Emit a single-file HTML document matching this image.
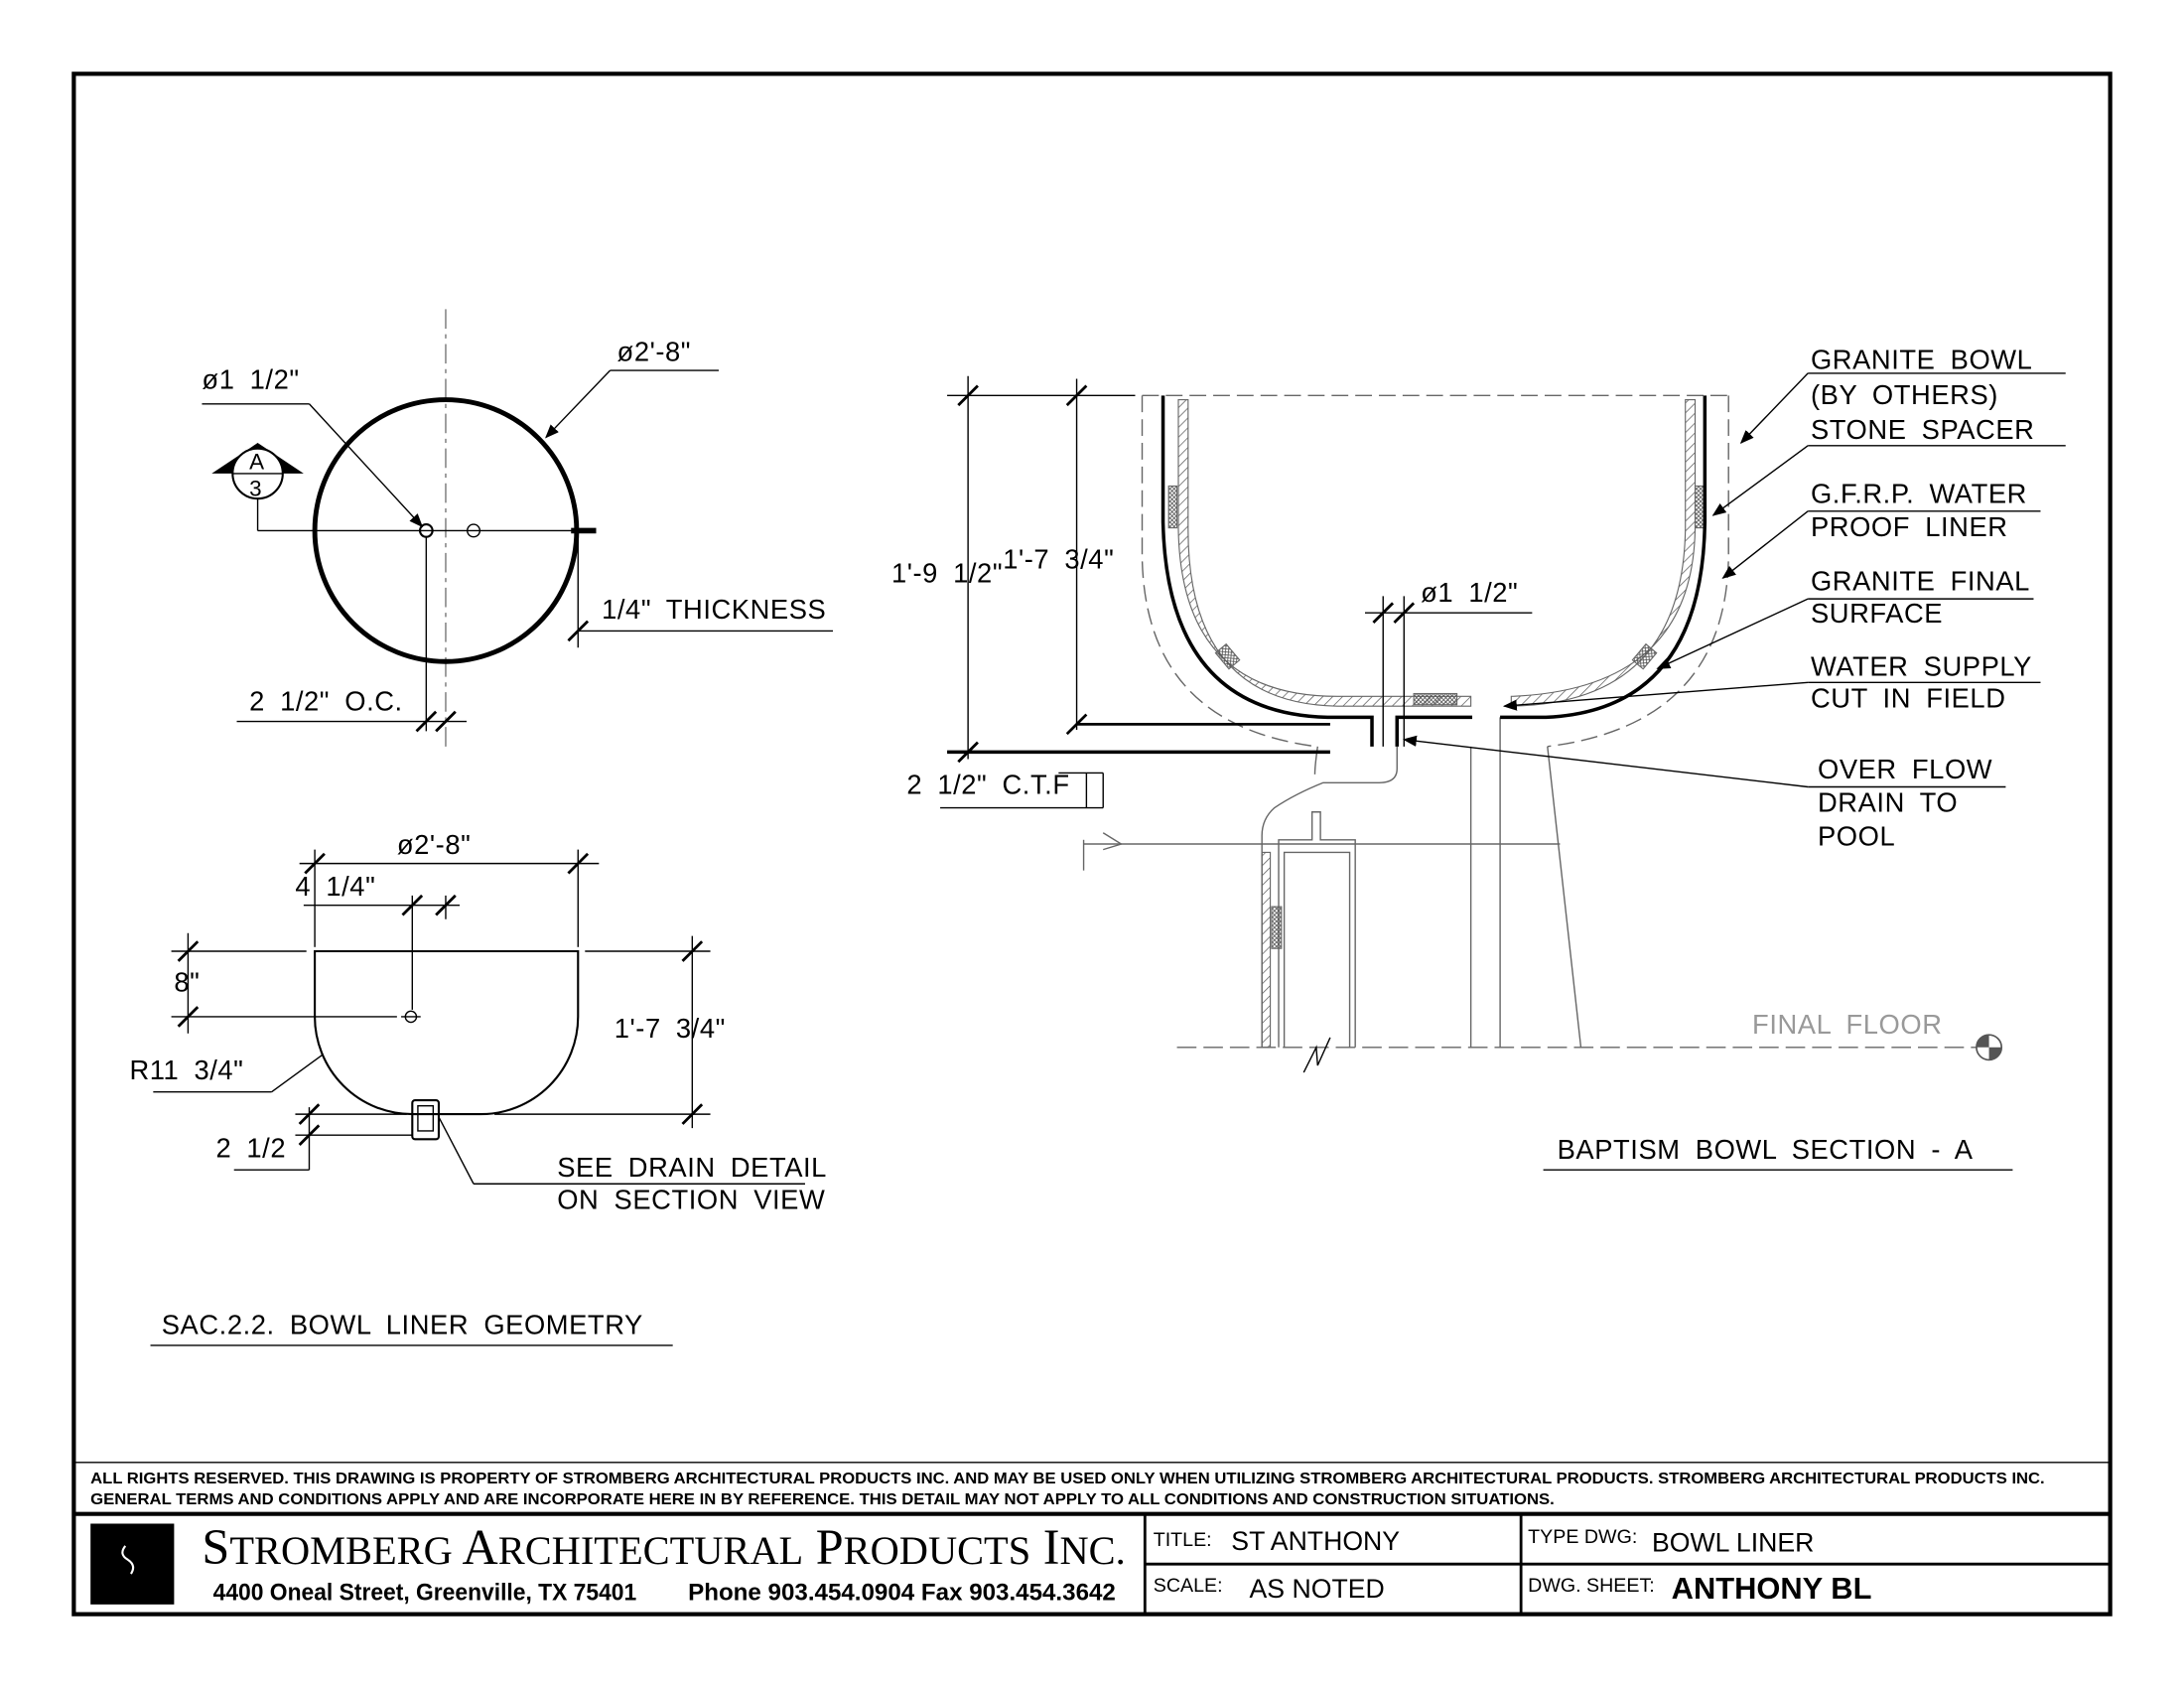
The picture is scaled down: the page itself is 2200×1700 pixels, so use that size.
<!DOCTYPE html>
<html><head><meta charset="utf-8"><style>
html,body{margin:0;padding:0;background:#fff}
svg{display:block}
text{font-family:"Liberation Sans",sans-serif;fill:#000}
.t{font-size:19.5px;word-spacing:5px;letter-spacing:0.4px}
</style></head><body>
<svg width="2200" height="1700" viewBox="0 0 1568 1212" preserveAspectRatio="none" xmlns="http://www.w3.org/2000/svg">
<defs>
<pattern id="h" width="5" height="5" patternUnits="userSpaceOnUse" patternTransform="rotate(45)"><line x1="0" y1="0" x2="0" y2="5" stroke="#555" stroke-width="1"/></pattern>
<pattern id="x" width="3" height="3" patternUnits="userSpaceOnUse"><path d="M0,0L3,3M3,0L0,3" stroke="#555" stroke-width="0.6"/></pattern>
<marker id="a" markerWidth="10" markerHeight="8" refX="9" refY="4" orient="auto" markerUnits="userSpaceOnUse"><path d="M0,0L10,4L0,8z" fill="#000"/></marker>
</defs>
<rect x="53" y="53" width="1462" height="1106" fill="none" stroke="#000" stroke-width="3"/>

<g stroke="#000" fill="none" stroke-width="1">
<line x1="320" y1="222" x2="320" y2="540" stroke-dasharray="14,4,3,4" stroke="#777"/>
<circle cx="320" cy="381" r="94" stroke-width="3.5"/>
<line x1="185" y1="381" x2="412" y2="381"/>
<line x1="410" y1="381" x2="428" y2="381" stroke-width="4"/>
<circle cx="306" cy="381" r="4.5" stroke-width="1.5"/>
<circle cx="340" cy="381" r="4.5"/>
<line x1="185" y1="358" x2="185" y2="381"/>
<line x1="145" y1="290" x2="222" y2="290"/>
<line x1="222" y1="290" x2="303" y2="378" marker-end="url(#a)"/>
<line x1="438" y1="266" x2="516" y2="266"/>
<line x1="438" y1="266" x2="392" y2="314" marker-end="url(#a)"/>
<line x1="415" y1="385" x2="415" y2="465"/>
<line x1="415" y1="453" x2="598" y2="453"/>
<line x1="408" y1="460" x2="422" y2="446" stroke-width="2"/>
<line x1="306" y1="386" x2="306" y2="525"/>
<line x1="170" y1="518" x2="335" y2="518"/>
<line x1="299" y1="525" x2="313" y2="511" stroke-width="2"/>
<line x1="313" y1="525" x2="327" y2="511" stroke-width="2"/>
</g>
<path d="M152,340 L218,340 L185,318 Z" fill="#000"/>
<circle cx="185" cy="340" r="18" fill="#fff" stroke="#000" stroke-width="1.5"/>
<line x1="167" y1="340" x2="203" y2="340" stroke="#000"/>
<text x="179" y="337" style="font-size:16px">A</text>
<text x="179" y="356" style="font-size:16px">3</text>
<text class="t" x="145" y="279">ø1 1/2"</text>
<text class="t" x="443" y="259">ø2'-8"</text>
<text class="t" x="432" y="444">1/4" THICKNESS</text>
<text class="t" x="179" y="510">2 1/2" O.C.</text>

<g stroke="#000" fill="none" stroke-width="1">
<path d="M226,683 L415,683 L415,730 A70,70 0 0 1 345,800 L296,800 A70,70 0 0 1 226,730 Z" stroke-width="1.5"/>
<rect x="296" y="790" width="19" height="28" rx="2" stroke-width="1.5"/>
<rect x="300" y="794" width="11" height="18"/>
<circle cx="295" cy="730" r="4"/>
<line x1="288" y1="730" x2="302" y2="730"/>
<line x1="215" y1="620" x2="430" y2="620"/>
<line x1="226" y1="610" x2="226" y2="680"/>
<line x1="415" y1="610" x2="415" y2="680"/>
<line x1="219" y1="627" x2="233" y2="613" stroke-width="2"/>
<line x1="408" y1="627" x2="422" y2="613" stroke-width="2"/>
<line x1="218" y1="650" x2="330" y2="650"/>
<line x1="296" y1="643" x2="296" y2="725"/>
<line x1="320" y1="643" x2="320" y2="660"/>
<line x1="289" y1="657" x2="303" y2="643" stroke-width="2"/>
<line x1="313" y1="657" x2="327" y2="643" stroke-width="2"/>
<line x1="123" y1="683" x2="220" y2="683"/>
<line x1="123" y1="730" x2="285" y2="730"/>
<line x1="135" y1="670" x2="135" y2="742"/>
<line x1="128" y1="690" x2="142" y2="676" stroke-width="2"/>
<line x1="128" y1="737" x2="142" y2="723" stroke-width="2"/>
<line x1="420" y1="683" x2="510" y2="683"/>
<line x1="355" y1="800" x2="510" y2="800"/>
<line x1="497" y1="672" x2="497" y2="810"/>
<line x1="490" y1="690" x2="504" y2="676" stroke-width="2"/>
<line x1="490" y1="807" x2="504" y2="793" stroke-width="2"/>
<line x1="110" y1="784" x2="195" y2="784"/>
<line x1="195" y1="784" x2="232" y2="757"/>
<line x1="212" y1="800" x2="292" y2="800"/>
<line x1="212" y1="815" x2="296" y2="815"/>
<line x1="222" y1="795" x2="222" y2="840"/>
<line x1="168" y1="840" x2="222" y2="840"/>
<line x1="215" y1="807" x2="229" y2="793" stroke-width="2"/>
<line x1="215" y1="822" x2="229" y2="808" stroke-width="2"/>
<line x1="340" y1="850" x2="578" y2="850"/>
<line x1="340" y1="850" x2="315" y2="802"/>
<line x1="108" y1="966" x2="483" y2="966"/>
</g>
<text class="t" x="285" y="613">ø2'-8"</text>
<text class="t" x="212" y="643">4 1/4"</text>
<text class="t" x="125" y="712">8"</text>
<text class="t" x="441" y="745">1'-7 3/4"</text>
<text class="t" x="93" y="775">R11 3/4"</text>
<text class="t" x="155" y="831">2 1/2</text>
<text class="t" x="400" y="845">SEE DRAIN DETAIL</text>
<text class="t" x="400" y="868">ON SECTION VIEW</text>
<text class="t" x="116" y="958">SAC.2.2.  BOWL LINER GEOMETRY</text>

<g fill="none" stroke="#666" stroke-width="1">
<path d="M820,284 L1241,284" stroke-dasharray="12,5"/>
<path d="M820,284 L820,400 Q822,520 945,536" stroke-dasharray="12,5"/>
<path d="M1241,284 L1241,400 Q1239,520 1111,536" stroke-dasharray="12,5"/>
<path d="M1056,536 L1056,752 M1077,515 L1077,752"/>
<path d="M1111,536 L1135,752"/>
<path d="M1003,536 L1003,552 Q1003,562 990,562 L950,562 Q930,570 915,580 Q906,588 906,600 L906,752"/>
<path d="M946,536 Q944,550 944,556"/>
<path d="M918,752 L918,603 L942,603 L942,583 L948,583 L948,603 L973,603 L973,752"/>
<path d="M922,752 L922,612 L969,612 L969,752"/>
<path d="M778,606 L1120,606"/>
<path d="M778,603 L778,625"/>
<path d="M792,598 L805,606 L792,610"/>
<path d="M845,752 L1430,752" stroke-dasharray="14,5"/>
<path d="M936,770 L945,752 L946,765 L955,745" stroke="#000"/>
</g>
<rect x="906" y="612" width="6" height="140" fill="url(#h)" stroke="#666" stroke-width="0.8"/>
<rect x="913" y="651" width="7" height="30" fill="url(#x)" stroke="#666" stroke-width="0.8"/>
<path d="M846,287 L846,380 Q848,500 960,500 L1056,500 L1056,507 L960,507 Q853,505 853,380 L853,287 Z" fill="url(#h)" stroke="#666" stroke-width="0.8"/>
<path d="M1217,287 L1217,380 Q1215,495 1085,500 L1085,507 Q1208,505 1210,380 L1210,287 Z" fill="url(#h)" stroke="#666" stroke-width="0.8"/>
<rect x="839" y="349" width="6" height="30" fill="url(#x)" stroke="#666" stroke-width="0.8"/>
<rect x="1217" y="349" width="6" height="30" fill="url(#x)" stroke="#666" stroke-width="0.8"/>
<rect x="876" y="464" width="10" height="15" fill="url(#x)" stroke="#666" stroke-width="0.8" transform="rotate(-40 881 471)"/>
<rect x="1176" y="464" width="10" height="15" fill="url(#x)" stroke="#666" stroke-width="0.8" transform="rotate(40 1181 471)"/>
<rect x="1015" y="498" width="31" height="8" fill="url(#x)" stroke="#666" stroke-width="0.8"/>
<g fill="none" stroke="#000" stroke-width="2.5">
<path d="M835,284 L835,375 Q838,512 953,515 L985,515 L985,536"/>
<path d="M1003,536 L1003,515 L1057,515"/>
<path d="M1077,515 L1110,515 Q1222,510 1224,375 L1224,284"/>
<path d="M680,540 L955,540"/>
<path d="M773,520 L955,520" stroke-width="2"/>
</g>
<g stroke="#000" fill="none" stroke-width="1">
<line x1="680" y1="284" x2="815" y2="284"/>
<line x1="695" y1="270" x2="695" y2="545"/>
<line x1="773" y1="272" x2="773" y2="524"/>
<line x1="688" y1="291" x2="702" y2="277" stroke-width="2"/>
<line x1="688" y1="547" x2="702" y2="533" stroke-width="2"/>
<line x1="766" y1="291" x2="780" y2="277" stroke-width="2"/>
<line x1="766" y1="527" x2="780" y2="513" stroke-width="2"/>
<line x1="675" y1="580" x2="792" y2="580"/>
<line x1="780" y1="555" x2="780" y2="580"/>
<line x1="792" y1="555" x2="792" y2="580"/>
<line x1="760" y1="555" x2="792" y2="555"/>
<line x1="993" y1="428" x2="993" y2="536"/>
<line x1="1008" y1="428" x2="1008" y2="536"/>
<line x1="980" y1="440" x2="1100" y2="440"/>
<line x1="986" y1="447" x2="1000" y2="433" stroke-width="2"/>
<line x1="1001" y1="447" x2="1015" y2="433" stroke-width="2"/>
<line x1="1298" y1="268" x2="1483" y2="268"/>
<line x1="1298" y1="268" x2="1250" y2="318" marker-end="url(#a)"/>
<line x1="1298" y1="320" x2="1483" y2="320"/>
<line x1="1298" y1="320" x2="1230" y2="370" marker-end="url(#a)"/>
<line x1="1298" y1="367" x2="1465" y2="367"/>
<line x1="1298" y1="367" x2="1237" y2="415" marker-end="url(#a)"/>
<line x1="1298" y1="430" x2="1460" y2="430"/>
<line x1="1298" y1="430" x2="1190" y2="480" marker-end="url(#a)"/>
<line x1="1298" y1="490" x2="1465" y2="490"/>
<line x1="1298" y1="490" x2="1080" y2="507" marker-end="url(#a)"/>
<line x1="1298" y1="565" x2="1440" y2="565"/>
<line x1="1298" y1="565" x2="1008" y2="531" marker-end="url(#a)"/>
<line x1="1108" y1="840" x2="1445" y2="840"/>
</g>
<circle cx="1428" cy="752" r="9" fill="#fff" stroke="#555" stroke-width="1.2"/>
<path d="M1428,752 L1437,752 A9,9 0 0 1 1428,761 Z M1428,752 L1419,752 A9,9 0 0 1 1428,743 Z" fill="#555"/>
<text class="t" x="640" y="418">1'-9 1/2"</text>
<text class="t" x="720" y="408">1'-7 3/4"</text>
<text class="t" x="651" y="570">2 1/2" C.T.F</text>
<text class="t" x="1020" y="432">ø1 1/2"</text>
<text class="t" x="1300" y="265">GRANITE BOWL</text>
<text class="t" x="1300" y="290">(BY OTHERS)</text>
<text class="t" x="1300" y="315">STONE SPACER</text>
<text class="t" x="1300" y="361">G.F.R.P. WATER</text>
<text class="t" x="1300" y="385">PROOF LINER</text>
<text class="t" x="1300" y="424">GRANITE FINAL</text>
<text class="t" x="1300" y="447">SURFACE</text>
<text class="t" x="1300" y="485">WATER SUPPLY</text>
<text class="t" x="1300" y="508">CUT IN FIELD</text>
<text class="t" x="1305" y="559">OVER FLOW</text>
<text class="t" x="1305" y="583">DRAIN TO</text>
<text class="t" x="1305" y="607">POOL</text>
<text class="t" x="1258" y="742" style="fill:#999">FINAL FLOOR</text>
<text class="t" x="1118" y="832">BAPTISM BOWL SECTION - A</text>

<line x1="53" y1="1050" x2="1515" y2="1050" stroke="#000" stroke-width="1"/>
<text x="65" y="1065" textLength="1403" lengthAdjust="spacingAndGlyphs" style="font-size:11px;font-weight:bold">ALL RIGHTS RESERVED. THIS DRAWING IS PROPERTY OF STROMBERG ARCHITECTURAL PRODUCTS INC. AND MAY BE USED ONLY WHEN UTILIZING STROMBERG ARCHITECTURAL PRODUCTS.  STROMBERG ARCHITECTURAL PRODUCTS INC.</text>
<text x="65" y="1080" textLength="1051" lengthAdjust="spacingAndGlyphs" style="font-size:11px;font-weight:bold">GENERAL TERMS AND CONDITIONS APPLY AND ARE INCORPORATE HERE IN BY REFERENCE.  THIS DETAIL MAY NOT APPLY TO ALL CONDITIONS AND CONSTRUCTION SITUATIONS.</text>
<line x1="53" y1="1087" x2="1515" y2="1087" stroke="#000" stroke-width="3"/>
<line x1="822" y1="1087" x2="822" y2="1159" stroke="#000" stroke-width="2"/>
<line x1="1092" y1="1087" x2="1092" y2="1159" stroke="#000" stroke-width="2"/>
<line x1="822" y1="1123" x2="1515" y2="1123" stroke="#000" stroke-width="2"/>
<rect x="65" y="1094" width="60" height="58" fill="#000"/>
<path d="M90,1110 q-5,6 2,10 M92,1120 q6,4 2,10" stroke="#fff" fill="none" stroke-width="1.5"/>
<text x="145" y="1123" textLength="663" lengthAdjust="spacingAndGlyphs" style="font-family:'Liberation Serif',serif;font-size:36px">S<tspan style="font-size:29px">TROMBERG</tspan> A<tspan style="font-size:29px">RCHITECTURAL</tspan> P<tspan style="font-size:29px">RODUCTS</tspan> I<tspan style="font-size:29px">NC.</tspan></text>
<text x="153" y="1149" textLength="304" lengthAdjust="spacingAndGlyphs" style="font-size:17px;font-weight:bold">4400 Oneal Street, Greenville, TX  75401</text>
<text x="494" y="1149" textLength="307" lengthAdjust="spacingAndGlyphs" style="font-size:17px;font-weight:bold">Phone 903.454.0904   Fax 903.454.3642</text>
<text x="828" y="1110" style="font-size:14px">TITLE:</text>
<text x="884" y="1113" style="font-size:19px">ST ANTHONY</text>
<text x="828" y="1143" style="font-size:14px">SCALE:</text>
<text x="897" y="1147" style="font-size:19px">AS NOTED</text>
<text x="1097" y="1108" style="font-size:14px">TYPE DWG:</text>
<text x="1186" y="1114" style="font-size:19px">BOWL LINER</text>
<text x="1097" y="1143" style="font-size:14px">DWG. SHEET:</text>
<text x="1200" y="1148" style="font-size:22px;font-weight:bold">ANTHONY BL</text>
</svg>
</body></html>
